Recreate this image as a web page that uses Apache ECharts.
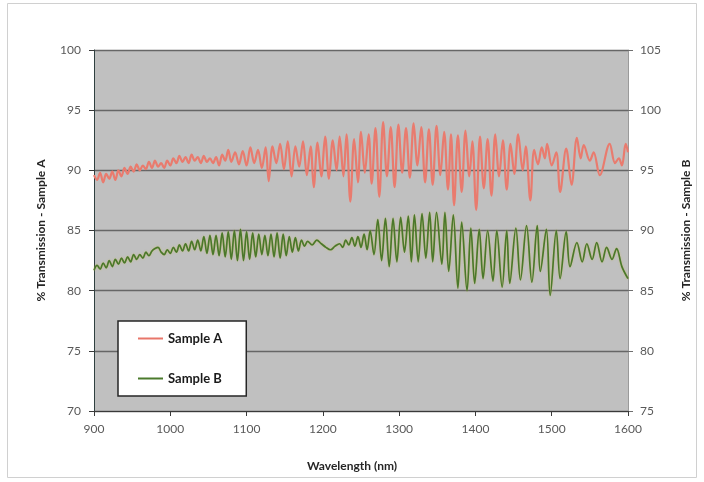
<!DOCTYPE html>
<html>
<head>
<meta charset="utf-8">
<title>Transmission</title>
<script src="https://cdn.jsdelivr.net/npm/echarts@6/dist/echarts.min.js"></script>
<style>
  html, body { margin: 0; padding: 0; background: #fff; }
  #chart { width: 704px; height: 482px; }
</style>
</head>
<body>
<div id="chart"></div>
<script>
// wavelength (nm) / transmission (%), peaks and troughs in order
var waveA = [900, 904, 908, 912, 916, 920, 924, 928, 932, 936, 940, 944, 948, 952, 956, 960, 964, 968, 972, 976,
  980, 984, 988, 992, 996, 1000, 1004, 1008, 1012, 1016, 1020, 1024, 1028, 1032, 1036, 1040, 1044, 1048, 1052, 1056,
  1060, 1064, 1068, 1072, 1076, 1080, 1085, 1090, 1095, 1100, 1105, 1110, 1115, 1120, 1125, 1129, 1134, 1139, 1144, 1149,
  1154, 1159, 1164, 1169, 1174, 1179, 1184, 1188, 1193, 1198, 1203, 1208, 1213, 1218, 1222, 1227, 1231, 1236, 1241, 1246,
  1250, 1255, 1260, 1264, 1269, 1274, 1279, 1284, 1289, 1294, 1299, 1304, 1309, 1314, 1319, 1324, 1329, 1334, 1339, 1344,
  1349, 1354, 1359, 1364, 1368, 1372, 1377, 1382, 1387, 1392, 1396, 1401, 1406, 1411, 1416, 1421, 1426, 1431, 1436, 1441,
  1446, 1451, 1456, 1462, 1466, 1472, 1477, 1482, 1487, 1491, 1494, 1500, 1506, 1511, 1519, 1526, 1533, 1538, 1542, 1550,
  1555, 1563, 1576, 1583, 1588, 1592, 1597, 1600];
var transA = [89.6, 89.2, 89.8, 89.0, 89.7, 89.3, 89.9, 89.2, 90.0, 89.5, 90.2, 89.7, 90.3, 89.9, 90.5, 90.0, 90.4, 90.1, 90.7, 90.2,
  90.8, 90.3, 90.6, 90.2, 90.8, 90.4, 91.0, 90.6, 91.2, 90.7, 91.1, 90.6, 91.3, 90.8, 91.1, 90.6, 91.2, 90.7, 91.0, 90.6,
  91.1, 90.4, 91.3, 90.8, 91.7, 90.7, 91.5, 90.5, 91.6, 90.4, 91.9, 90.6, 91.7, 90.2, 91.9, 89.1, 92.0, 90.6, 92.2, 90.1,
  92.4, 89.5, 92.0, 90.3, 92.4, 89.6, 92.0, 88.6, 92.3, 89.5, 92.8, 89.3, 92.5, 90.0, 92.8, 89.5, 93.0, 87.4, 92.6, 89.0,
  93.2, 89.8, 93.0, 88.9, 93.5, 87.8, 94.0, 89.5, 93.6, 88.6, 93.8, 89.8, 93.5, 89.4, 93.9, 90.4, 93.6, 89.0, 93.4, 88.8,
  93.7, 89.6, 93.2, 88.4, 93.0, 87.1, 92.9, 88.2, 93.3, 89.5, 92.4, 86.7, 92.8, 88.5, 92.6, 87.9, 93.0, 89.5, 92.5, 88.4,
  92.2, 89.7, 93.0, 90.0, 92.0, 87.5, 91.7, 90.5, 91.9, 91.0, 92.2, 90.4, 91.5, 88.2, 91.8, 88.8, 92.7, 91.0, 92.1, 90.8,
  91.5, 89.6, 92.2, 90.6, 91.0, 90.4, 92.2, 91.5];

var waveB = [900, 904, 908, 912, 916, 920, 924, 928, 932, 936, 940, 944, 948, 952, 956, 960, 964, 968, 972, 976,
  980, 984, 988, 992, 996, 1000, 1004, 1008, 1012, 1016, 1020, 1024, 1028, 1032, 1036, 1040, 1044, 1048, 1052, 1056,
  1060, 1064, 1068, 1072, 1076, 1080, 1084, 1088, 1092, 1096, 1100, 1104, 1108, 1112, 1116, 1120, 1124, 1128, 1132, 1136,
  1140, 1144, 1148, 1152, 1156, 1160, 1164, 1168, 1172, 1176, 1180, 1186, 1192, 1198, 1204, 1210, 1216, 1222, 1226, 1230,
  1234, 1238, 1242, 1246, 1250, 1254, 1258, 1262, 1267, 1272, 1277, 1282, 1287, 1292, 1297, 1302, 1307, 1312, 1316, 1320,
  1325, 1330, 1335, 1340, 1344, 1349, 1356, 1360, 1365, 1371, 1377, 1382, 1389, 1394, 1399, 1405, 1410, 1416, 1423, 1428,
  1435, 1441, 1445, 1453, 1459, 1467, 1474, 1481, 1485, 1493, 1498, 1506, 1511, 1519, 1524, 1533, 1540, 1546, 1553, 1559,
  1566, 1572, 1579, 1585, 1592, 1600];
var transB = [86.7, 87.1, 86.8, 87.3, 86.9, 87.5, 87.0, 87.6, 87.2, 87.7, 87.3, 87.8, 87.4, 88.0, 87.6, 88.0, 87.7, 88.2, 87.9, 88.3,
  88.5, 88.6, 88.2, 88.0, 88.4, 88.1, 88.6, 88.2, 88.8, 88.3, 88.9, 88.3, 89.1, 88.4, 89.2, 88.3, 89.5, 88.1, 89.6, 88.0,
  89.6, 87.9, 89.8, 87.8, 89.9, 87.6, 90.0, 87.5, 90.1, 87.5, 89.9, 87.6, 89.8, 87.8, 89.7, 88.0, 89.6, 87.9, 89.7, 87.8,
  89.8, 87.7, 89.7, 87.9, 89.5, 88.2, 89.4, 88.3, 89.2, 88.7, 89.1, 88.8, 89.2, 88.9, 88.6, 88.4, 88.7, 88.9, 88.6, 89.2,
  88.8, 89.4, 88.7, 89.5, 88.6, 89.7, 88.4, 90.0, 88.0, 90.9, 87.5, 91.0, 87.0, 91.0, 87.4, 91.1, 88.2, 91.2, 87.4, 91.3,
  87.4, 91.4, 87.7, 91.5, 87.4, 91.5, 87.2, 91.5, 86.6, 91.3, 85.2, 90.7, 85.0, 90.2, 85.6, 90.1, 86.0, 90.0, 85.8, 90.0,
  85.3, 90.0, 85.6, 90.2, 85.9, 90.4, 85.7, 90.4, 86.6, 90.1, 84.6, 90.0, 86.0, 89.9, 87.0, 89.0, 87.4, 88.9, 87.6, 89.0,
  87.4, 88.6, 87.6, 88.5, 87.0, 86.0];

var xTicks = { min: 900, max: 1600, step: 100 };
var leftTicks = { min: 70, max: 100, step: 5 };
var rightTicks = { min: 75, max: 105, step: 5 };

function pairs(xs, ys) {
  var out = [];
  for (var i = 0; i < xs.length; i++) {
    out.push([xs[i], ys[i]]);
  }
  return out;
}

var chartDom = document.getElementById('chart');
var myChart = echarts.init(chartDom, null, { renderer: 'canvas' });

var labelStyle = { color: '#595959', fontSize: 12, fontFamily: 'Lato' };
var nameStyle = { color: '#262626', fontSize: 12, fontWeight: 'bold', fontFamily: 'Lato' };

var option = {
  animation: false,
  backgroundColor: '#ffffff',
  graphic: [
    {
      type: 'rect',
      shape: { x: 7.5, y: 3.5, width: 689, height: 474 },
      style: { fill: 'none', stroke: '#d0d0d0', lineWidth: 1 },
      silent: true
    }
  ],
  grid: {
    left: 94,
    right: 76,
    top: 50,
    bottom: 71,
    show: true,
    backgroundColor: '#c0c0c0',
    borderWidth: 0
  },
  legend: {
    orient: 'vertical',
    left: 118,
    top: 321,
    backgroundColor: '#ffffff',
    borderColor: '#262626',
    borderWidth: 1.5,
    padding: [11, 24, 11, 20],
    itemGap: 27,
    itemWidth: 25,
    itemHeight: 2,
    icon: 'rect',
    textStyle: { color: '#1a1a1a', fontSize: 13, fontWeight: 'bold', fontFamily: 'Lato' },
    data: ['Sample A', 'Sample B']
  },
  xAxis: {
    type: 'value',
    min: xTicks.min,
    max: xTicks.max,
    interval: xTicks.step,
    name: 'Wavelength (nm)',
    nameLocation: 'middle',
    nameGap: 49,
    nameTextStyle: Object.assign({ padding: [0, 18, 0, 0] }, nameStyle),
    axisLine: { show: true, lineStyle: { color: '#3a3a3a', width: 1 } },
    axisTick: { show: true, length: 5, lineStyle: { color: '#3a3a3a' } },
    axisLabel: Object.assign({ margin: 12, formatter: function (v) { return String(v); } }, labelStyle),
    splitLine: { show: false }
  },
  yAxis: [
    {
      type: 'value',
      position: 'left',
      min: leftTicks.min,
      max: leftTicks.max,
      interval: leftTicks.step,
      name: '% Transmission - Sample A',
      nameLocation: 'middle',
      nameGap: 47,
      nameTextStyle: nameStyle,
      axisLine: { show: true, lineStyle: { color: '#2f3f3f', width: 1 } },
      axisTick: { show: true, length: 5, lineStyle: { color: '#3a3a3a' } },
      axisLabel: Object.assign({ margin: 13 }, labelStyle),
      splitLine: { show: true, lineStyle: { color: '#666666', width: 1.4 } }
    },
    {
      type: 'value',
      position: 'right',
      min: rightTicks.min,
      max: rightTicks.max,
      interval: rightTicks.step,
      name: '% Transmission - Sample B',
      nameLocation: 'middle',
      nameGap: 52,
      nameRotate: 90,
      nameTextStyle: nameStyle,
      axisLine: { show: true, lineStyle: { color: '#9a9a9a', width: 1 } },
      axisTick: { show: true, length: 5, lineStyle: { color: '#6e6e6e' } },
      axisLabel: Object.assign({ margin: 12 }, labelStyle),
      splitLine: { show: false }
    }
  ],
  series: [
    {
      name: 'Sample A',
      type: 'line',
      yAxisIndex: 0,
      symbol: 'none',
      smooth: 0.35,
      color: '#e8766a',
      lineStyle: { width: 2.2, color: '#e97b6e' },
      data: pairs(waveA, transA)
    },
    {
      name: 'Sample B',
      type: 'line',
      yAxisIndex: 1,
      symbol: 'none',
      smooth: 0.35,
      color: '#4b7a2c',
      lineStyle: { width: 1.7, color: '#4a782b', shadowColor: 'rgba(205, 190, 90, 0.7)', shadowBlur: 2 },
      data: pairs(waveB, transB)
    }
  ]
};

option && myChart.setOption(option);
</script>
</body>
</html>
